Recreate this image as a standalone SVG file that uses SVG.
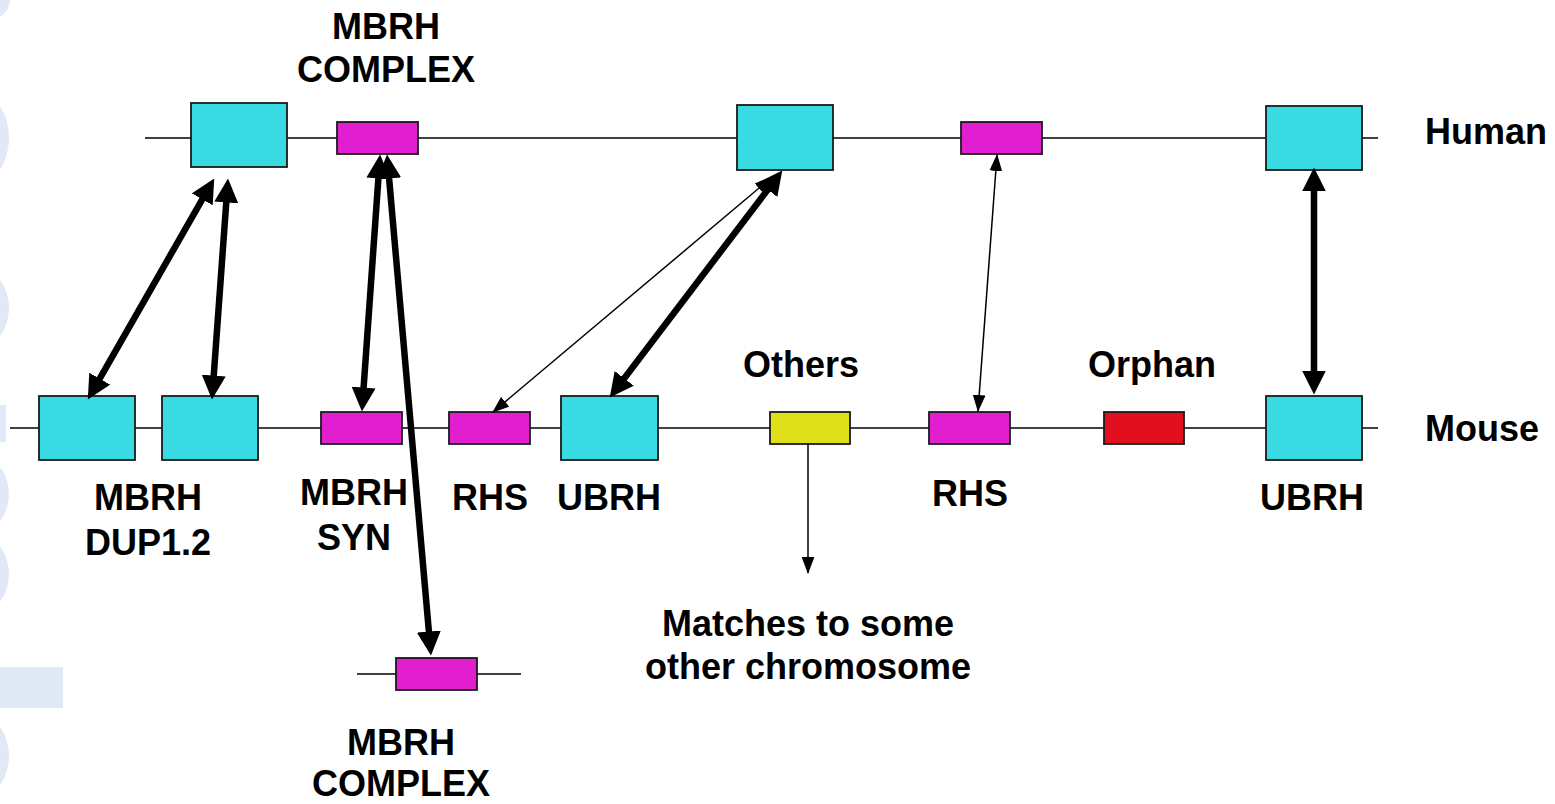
<svg xmlns="http://www.w3.org/2000/svg" width="1555" height="804" viewBox="0 0 1555 804">
<style>
.bg{fill:#ffffff}
.wm{fill:#e2e9f6}
.chrom{stroke:#000;stroke-width:1.6;fill:none}
.box{stroke:#1a1a1a;stroke-width:1.8}
.cyan{fill:#39dbe2}
.mag{fill:#e21fd0}
.red{fill:#e2101e}
.yel{fill:#e0e01a}
.lbl{font-family:"Liberation Sans",Arial,sans-serif;font-weight:bold;font-size:36px;fill:#000}
.mid{text-anchor:middle}
.thick{stroke:#000;stroke-width:6.5;fill:none;marker-start:url(#hb);marker-end:url(#hb)}
.thin{stroke:#000;stroke-width:1.5;fill:none;marker-start:url(#ht);marker-end:url(#ht)}
</style>
<defs>
<marker id="hb" markerUnits="userSpaceOnUse" markerWidth="24" markerHeight="24" viewBox="0 0 23 23" refX="11" refY="11.5" orient="auto-start-reverse"><path d="M0,0 L23,11.5 L0,23 z" fill="#000"/></marker>
<marker id="ht" markerUnits="userSpaceOnUse" markerWidth="17" markerHeight="13" viewBox="0 0 16 12" refX="15" refY="6" orient="auto-start-reverse"><path d="M0,0 L16,6 L0,12 z" fill="#000"/></marker>
<marker id="hd" markerUnits="userSpaceOnUse" markerWidth="17" markerHeight="13" viewBox="0 0 16 12" refX="15" refY="6" orient="auto"><path d="M0,0 L16,6 L0,12 z" fill="#000"/></marker>
</defs>
<rect class="bg" x="0" y="0" width="1555" height="804"/>
<g id="watermark">
<ellipse class="wm" cx="-20" cy="0" rx="30" ry="23"/>
<ellipse class="wm" cx="-25" cy="138" rx="34" ry="47"/>
<ellipse class="wm" cx="-25" cy="308" rx="34" ry="41"/>
<rect class="wm" x="0" y="405" width="6" height="37"/>
<ellipse class="wm" cx="-25" cy="494" rx="34" ry="40"/>
<ellipse class="wm" cx="-25" cy="574" rx="34" ry="41"/>
<rect class="wm" x="0" y="667" width="63" height="41"/>
<ellipse class="wm" cx="-25" cy="756" rx="34" ry="43"/>
</g>
<g id="chromosomes">
<line class="chrom" x1="145" y1="138" x2="1378" y2="138"/>
<line class="chrom" x1="10" y1="428" x2="1378" y2="428"/>
<line class="chrom" x1="357" y1="674" x2="521" y2="674"/>
</g>
<g id="h-mbrh-dup"><rect class="box cyan" x="191" y="103" width="96" height="64"/></g>
<g id="h-mbrh-complex"><rect class="box mag" x="337" y="122" width="81" height="32"/><text class="lbl mid" x="386" y="39">MBRH</text><text class="lbl mid" x="386" y="82">COMPLEX</text></g>
<g id="h-ubrh1"><rect class="box cyan" x="737" y="105" width="96" height="65"/></g>
<g id="h-rhs"><rect class="box mag" x="961" y="122" width="81" height="32"/></g>
<g id="h-ubrh2"><rect class="box cyan" x="1266" y="106" width="96" height="64"/></g>
<g id="human-label"><text class="lbl" x="1425" y="144">Human</text></g>
<g id="mouse-label"><text class="lbl" x="1425" y="441">Mouse</text></g>
<g id="m-dup1"><rect class="box cyan" x="39" y="396" width="96" height="64"/></g>
<g id="m-dup2"><rect class="box cyan" x="162" y="396" width="96" height="64"/><text class="lbl mid" x="148" y="510">MBRH</text><text class="lbl mid" x="148" y="555">DUP1.2</text></g>
<g id="m-syn"><rect class="box mag" x="321" y="412" width="81" height="32"/><text class="lbl mid" x="354" y="505">MBRH</text><text class="lbl mid" x="354" y="550">SYN</text></g>
<g id="m-rhs1"><rect class="box mag" x="449" y="412" width="81" height="32"/><text class="lbl mid" x="490" y="510">RHS</text></g>
<g id="m-ubrh1"><rect class="box cyan" x="561" y="396" width="97" height="64"/><text class="lbl mid" x="609" y="510">UBRH</text></g>
<g id="m-others"><rect class="box yel" x="770" y="412" width="80" height="32"/><text class="lbl mid" x="801" y="377">Others</text></g>
<g id="m-rhs2"><rect class="box mag" x="929" y="412" width="81" height="32"/><text class="lbl mid" x="970" y="506">RHS</text></g>
<g id="m-orphan"><rect class="box red" x="1104" y="412" width="80" height="32"/><text class="lbl mid" x="1152" y="377">Orphan</text></g>
<g id="m-ubrh2"><rect class="box cyan" x="1266" y="396" width="96" height="64"/><text class="lbl mid" x="1312" y="510">UBRH</text></g>
<g id="other-complex"><rect class="box mag" x="396" y="658" width="81" height="32"/><text class="lbl mid" x="401" y="755">MBRH</text><text class="lbl mid" x="401" y="796">COMPLEX</text></g>
<g id="other-chrom"><text class="lbl mid" x="808" y="636">Matches to some</text><text class="lbl mid" x="808" y="679">other chromosome</text></g>
<g id="connectors">
<line class="thick" x1="208" y1="189.4" x2="94" y2="388.6"/>
<line class="thick" x1="227.1" y1="191" x2="212.9" y2="387"/>
<line class="thick" x1="379.2" y1="167" x2="362.8" y2="399"/>
<line class="thick" x1="388.1" y1="167" x2="429.9" y2="643"/>
<line class="thick" x1="774.7" y1="180.5" x2="617.3" y2="387.5"/>
<line class="thick" x1="1314" y1="180" x2="1314" y2="382"/>
<line class="thin" x1="771" y1="178" x2="493" y2="412"/>
<line class="thin" x1="997" y1="155" x2="978" y2="411"/>
<line stroke="#000" stroke-width="1.5" marker-end="url(#hd)" x1="808" y1="444" x2="808" y2="573"/>
</g>
</svg>
